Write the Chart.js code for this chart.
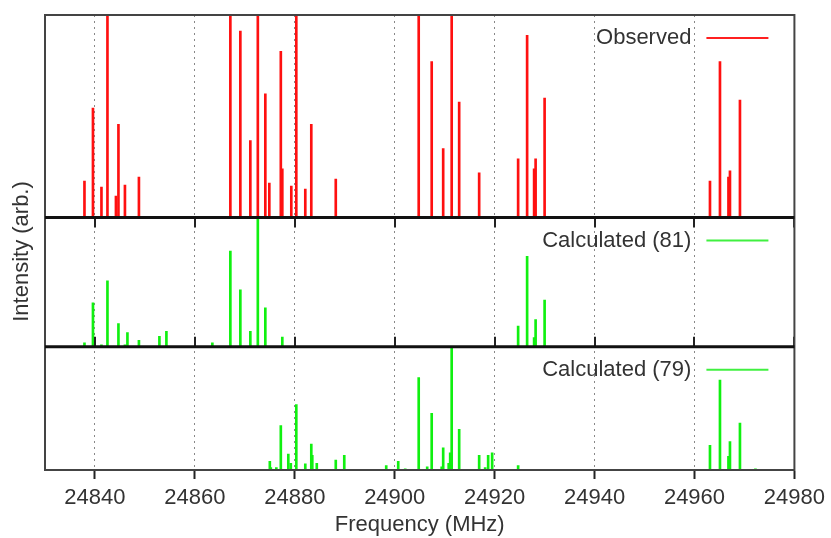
<!DOCTYPE html>
<html>
<head>
<meta charset="utf-8">
<script src="https://cdn.jsdelivr.net/npm/chart.js@4.4.1/dist/chart.umd.min.js"></script>
<style>
  body { margin: 0; background: #fff; }
  canvas { display: block; }
</style>
</head>
<body>
<canvas id="spectrum" width="831" height="538"></canvas>
<script>
// Observed lines (frequency in MHz, relative intensity)
const obsFreq = [24837.9, 24839.6, 24841.3, 24842.5, 24844.2, 24844.7, 24846.0, 24848.8,
    24867.1, 24869.1, 24871.1, 24872.6, 24874.1, 24874.9, 24877.2, 24877.5, 24879.3, 24880.3,
    24882.1, 24883.3, 24888.2, 24904.8, 24907.4, 24909.7, 24911.4, 24912.9, 24916.9,
    24924.7, 24926.5, 24927.9, 24928.2, 24930.0, 24963.1, 24965.1, 24966.8, 24967.1, 24969.1];
const obsInt = [0.18, 0.54, 0.15, 1.0, 0.105, 0.46, 0.16, 0.20,
    1.0, 0.92, 0.38, 1.0, 0.61, 0.17, 0.82, 0.24, 0.155, 1.0,
    0.14, 0.46, 0.19, 1.0, 0.77, 0.34, 1.0, 0.57, 0.22,
    0.29, 0.90, 0.24, 0.29, 0.59, 0.18, 0.77, 0.20, 0.23, 0.58];

// Calculated (81)
const calc81Freq = [24837.9, 24839.6, 24841.3, 24842.5, 24844.7, 24846.0, 24846.5, 24848.8,
    24852.9, 24854.3, 24863.5, 24867.1, 24869.1, 24871.1, 24872.6, 24874.1, 24877.5,
    24924.7, 24926.5, 24927.9, 24928.2, 24930.0];
const calc81Int = [0.03, 0.34, 0.015, 0.51, 0.18, 0.015, 0.11, 0.05,
    0.08, 0.12, 0.03, 0.74, 0.44, 0.12, 1.0, 0.30, 0.075,
    0.16, 0.70, 0.07, 0.21, 0.36];

// Calculated (79)
const calc79Freq = [24875.0, 24875.2, 24876.3, 24877.2, 24878.7, 24879.2, 24880.3, 24882.1,
    24883.3, 24883.5, 24884.4, 24888.2, 24889.9, 24898.3, 24900.7, 24902.1, 24904.8,
    24906.5, 24907.4, 24909.4, 24909.7, 24910.8, 24911.1, 24911.4, 24912.9, 24916.9,
    24918.1, 24918.7, 24919.5, 24924.7, 24963.1, 24965.1, 24966.8, 24967.1, 24969.1, 24972.2];
const calc79Int = [0.07, 0.02, 0.02, 0.36, 0.13, 0.055, 0.53, 0.05,
    0.21, 0.12, 0.055, 0.08, 0.12, 0.035, 0.07, 0.01, 0.75,
    0.025, 0.46, 0.025, 0.18, 0.055, 0.14, 1.0, 0.33, 0.12,
    0.02, 0.12, 0.14, 0.035, 0.20, 0.73, 0.11, 0.23, 0.38, 0.01];

const freqTicks = [24840, 24860, 24880, 24900, 24920, 24940, 24960, 24980];

const FONT = "'Liberation Sans', Arial, sans-serif";
const TEXT = "#333";

function toPoints(xs, ys) {
    return xs.map(function (x, i) { return { x: x, y: ys[i] }; });
}

// panel frame, separators, inner ticks, per-panel key and y title
const panelDecor = {
    id: "panelDecor",
    afterDatasetsDraw(chart) {
        const ctx = chart.ctx;
        const area = chart.chartArea;
        const s = chart.scales;
        const x = s.x;
        ctx.save();

        // inward tick marks on the middle panel
        ctx.strokeStyle = "#222";
        ctx.lineWidth = 2;
        freqTicks.forEach(function (v) {
            const px = Math.round(x.getPixelForValue(v));
            ctx.beginPath();
            ctx.moveTo(px, s.yMid.top);
            ctx.lineTo(px, s.yMid.top + 10);
            ctx.moveTo(px, s.yMid.bottom);
            ctx.lineTo(px, s.yMid.bottom - 10);
            ctx.stroke();
        });

        // outer frame
        ctx.strokeStyle = "#444";
        ctx.lineWidth = 2;
        ctx.strokeRect(area.left, area.top, area.right - area.left, area.bottom - area.top);

        // separators between panels
        ctx.strokeStyle = "#111";
        ctx.lineWidth = 3;
        [s.yTop.bottom, s.yMid.bottom].forEach(function (py) {
            ctx.beginPath();
            ctx.moveTo(area.left, py);
            ctx.lineTo(area.right, py);
            ctx.stroke();
        });

        // keys
        ctx.font = "22px " + FONT;
        ctx.textAlign = "right";
        ctx.textBaseline = "middle";
        chart.data.datasets.forEach(function (ds) {
            const sc = s[ds.yAxisID];
            const ky = sc.top + 23;
            ctx.fillStyle = TEXT;
            ctx.fillText(ds.label, area.right - 103, ky);
            ctx.strokeStyle = ds.keyColor;
            ctx.lineWidth = 2;
            ctx.beginPath();
            ctx.moveTo(area.right - 88, ky);
            ctx.lineTo(area.right - 26, ky);
            ctx.stroke();
        });

        // y title
        ctx.translate(22, (area.top + area.bottom) / 2 + 9);
        ctx.rotate(-Math.PI / 2);
        ctx.textAlign = "center";
        ctx.fillStyle = TEXT;
        ctx.fillText("Intensity (arb.)", 0, 0);
        ctx.restore();
    }
};

function panelAxis(weight) {
    return {
        type: "linear",
        position: "left",
        stack: "panels",
        stackWeight: weight,
        min: 0,
        max: 1,
        ticks: { display: false },
        grid: { display: false },
        border: { display: true, color: "#444", width: 2 },
        afterFit: function (scale) { scale.width = 45; }
    };
}

new Chart(document.getElementById("spectrum").getContext("2d"), {
    type: "bar",
    data: {
        datasets: [
            {
                label: "Observed",
                data: toPoints(obsFreq, obsInt),
                yAxisID: "yTop",
                backgroundColor: "#ff1010",
                keyColor: "#ff2020"
            },
            {
                label: "Calculated (81)",
                data: toPoints(calc81Freq, calc81Int),
                yAxisID: "yMid",
                backgroundColor: "#10f010",
                keyColor: "#40f040"
            },
            {
                label: "Calculated (79)",
                data: toPoints(calc79Freq, calc79Int),
                yAxisID: "yLow",
                backgroundColor: "#10f010",
                keyColor: "#40f040"
            }
        ]
    },
    options: {
        responsive: false,
        animation: false,
        events: [],
        layout: { padding: { top: 15, right: 35, left: 0, bottom: 0 } },
        datasets: {
            bar: { barThickness: 2, grouped: false, borderWidth: 0 }
        },
        plugins: {
            legend: { display: false },
            tooltip: { enabled: false }
        },
        scales: {
            x: {
                type: "linear",
                min: 24830,
                max: 24980,
                offset: false,
                afterBuildTicks: function (scale) {
                    scale.ticks = freqTicks.map(function (v) { return { value: v }; });
                },
                ticks: {
                    padding: 6,
                    color: TEXT,
                    font: { family: FONT, size: 22 },
                    maxRotation: 0,
                    autoSkip: false,
                    callback: function (v) { return String(v); }
                },
                grid: {
                    offset: false,
                    color: "#888",
                    lineWidth: 1,
                    tickLength: 9,
                    tickColor: "#222",
                    tickWidth: 2
                },
                border: { display: true, color: "#222", width: 2, dash: [2, 4] },
                title: {
                    display: true,
                    text: "Frequency (MHz)",
                    color: TEXT,
                    font: { family: FONT, size: 22 },
                    padding: { top: 0, bottom: 0 }
                },
                afterFit: function (scale) { scale.height = 68; }
            },
            yLow: panelAxis(123),
            yMid: panelAxis(129),
            yTop: panelAxis(202)
        }
    },
    plugins: [panelDecor]
});
</script>
</body>
</html>
